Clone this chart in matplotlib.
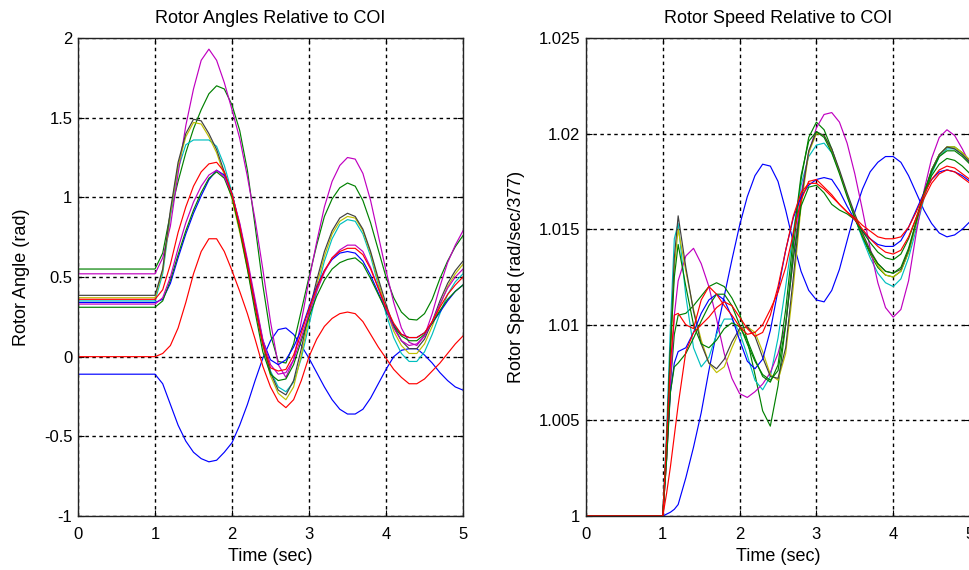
import numpy as np
import matplotlib
matplotlib.use("Agg")
import matplotlib.pyplot as plt

# sample times (s)
t_ang = [0.0] + [round(1.0 + 0.1 * i, 1) for i in range(41)]
t_spd = [0.0, 1.0, 1.05, 1.1, 1.15, 1.2] + [round(1.3 + 0.1 * i, 1) for i in range(38)]

# rotor angles (rad)
ang_blue0 = [-0.11, -0.11, -0.17, -0.30, -0.43, -0.53, -0.60, -0.64, -0.66, -0.65, -0.60, -0.54,
             -0.43, -0.30, -0.15, -0.01, 0.10, 0.17, 0.18, 0.14, 0.07, -0.01, -0.10, -0.19, -0.27,
             -0.33, -0.36, -0.36, -0.33, -0.26, -0.17, -0.08, 0.00, 0.04, 0.05, 0.05, 0.01, -0.04,
             -0.10, -0.15, -0.19, -0.21]
ang_green = [0.55, 0.55, 0.65, 0.90, 1.10, 1.28, 1.43, 1.55, 1.65, 1.70, 1.68, 1.58, 1.42, 1.17,
             0.82, 0.45, 0.14, -0.03, -0.04, 0.08, 0.29, 0.50, 0.70, 0.88, 0.99, 1.06, 1.09, 1.07,
             0.98, 0.84, 0.67, 0.50, 0.37, 0.28, 0.235, 0.23, 0.27, 0.36, 0.49, 0.60, 0.69, 0.76]
ang_red = [0.36, 0.36, 0.42, 0.58, 0.78, 0.94, 1.07, 1.16, 1.21, 1.22, 1.16, 1.02, 0.82, 0.58,
           0.32, 0.08, -0.07, -0.09, -0.08, 0.01, 0.15, 0.30, 0.43, 0.54, 0.62, 0.66, 0.68, 0.68,
           0.64, 0.55, 0.43, 0.31, 0.21, 0.14, 0.12, 0.12, 0.15, 0.22, 0.31, 0.39, 0.45, 0.50]
ang_cyan = [0.35, 0.35, 0.52, 0.88, 1.18, 1.33, 1.36, 1.36, 1.36, 1.32, 1.20, 1.03, 0.82, 0.59,
            0.34, 0.10, -0.09, -0.19, -0.22, -0.16, -0.01, 0.20, 0.41, 0.60, 0.74, 0.83, 0.86,
            0.85, 0.77, 0.63, 0.45, 0.27, 0.12, 0.02, -0.03, -0.03, 0.03, 0.14, 0.27, 0.39, 0.47,
            0.52]
ang_magenta = [0.52, 0.52, 0.62, 0.82, 1.15, 1.45, 1.68, 1.86, 1.93, 1.86, 1.72, 1.55, 1.37, 1.13,
               0.86, 0.55, 0.22, -0.05, -0.13, -0.02, 0.22, 0.48, 0.72, 0.94, 1.10, 1.20, 1.25,
               1.24, 1.15, 0.98, 0.76, 0.54, 0.34, 0.18, 0.09, 0.07, 0.13, 0.27, 0.44, 0.59, 0.70,
               0.79]
ang_yellow = [0.37, 0.37, 0.54, 0.90, 1.20, 1.38, 1.47, 1.46, 1.38, 1.28, 1.14, 0.99, 0.78, 0.55,
              0.31, 0.07, -0.12, -0.23, -0.27, -0.19, 0.01, 0.24, 0.45, 0.63, 0.77, 0.85, 0.88,
              0.87, 0.79, 0.65, 0.47, 0.30, 0.16, 0.07, 0.02, 0.02, 0.08, 0.19, 0.32, 0.44, 0.52,
              0.58]
ang_black = [0.385, 0.385, 0.55, 0.92, 1.22, 1.40, 1.49, 1.48, 1.40, 1.30, 1.16, 1.02, 0.80, 0.57,
             0.32, 0.08, -0.10, -0.21, -0.24, -0.15, 0.05, 0.28, 0.48, 0.66, 0.79, 0.87, 0.90,
             0.88, 0.80, 0.66, 0.49, 0.33, 0.19, 0.10, 0.05, 0.05, 0.11, 0.22, 0.35, 0.46, 0.54,
             0.60]
ang_blue = [0.34, 0.34, 0.36, 0.46, 0.62, 0.77, 0.90, 1.01, 1.11, 1.17, 1.14, 1.02, 0.83, 0.59,
            0.33, 0.10, -0.02, -0.05, -0.02, 0.06, 0.17, 0.31, 0.44, 0.54, 0.61, 0.65, 0.66, 0.65,
            0.60, 0.51, 0.40, 0.29, 0.20, 0.14, 0.12, 0.12, 0.15, 0.21, 0.28, 0.35, 0.41, 0.45]
ang_green2 = [0.31, 0.31, 0.35, 0.48, 0.64, 0.79, 0.92, 1.03, 1.12, 1.16, 1.12, 1.00, 0.80, 0.55,
              0.28, 0.03, -0.11, -0.15, -0.14, -0.05, 0.10, 0.25, 0.38, 0.48, 0.55, 0.59, 0.61,
              0.62, 0.58, 0.49, 0.39, 0.29, 0.19, 0.13, 0.10, 0.10, 0.14, 0.21, 0.29, 0.36, 0.41,
              0.45]
ang_magenta2 = [0.33, 0.33, 0.37, 0.50, 0.68, 0.84, 0.97, 1.07, 1.14, 1.17, 1.13, 1.02, 0.84, 0.61,
                0.36, 0.11, -0.05, -0.11, -0.10, -0.02, 0.12, 0.27, 0.41, 0.53, 0.62, 0.67, 0.70,
                0.70, 0.66, 0.56, 0.43, 0.30, 0.18, 0.10, 0.07, 0.08, 0.13, 0.22, 0.33, 0.43, 0.50,
                0.55]
ang_red0 = [0.0, 0.0, 0.02, 0.07, 0.18, 0.34, 0.52, 0.66, 0.74, 0.74, 0.66, 0.54, 0.41, 0.27,
            0.11, -0.06, -0.19, -0.28, -0.32, -0.27, -0.15, 0.00, 0.11, 0.19, 0.24, 0.27, 0.28,
            0.27, 0.22, 0.14, 0.06, -0.01, -0.08, -0.13, -0.17, -0.17, -0.14, -0.09, -0.04, 0.02,
            0.08, 0.13]

# rotor speeds, as (speed - 1) * 1000
spd_blue0 = [0, 0, 0.1, 0.2, 0.35, 0.6, 2.0, 3.6, 5.4, 7.6, 9.6, 11.5, 13.4, 15.2, 16.7, 17.8,
             18.4, 18.3, 17.5, 16.0, 14.3, 12.8, 11.8, 11.3, 11.2, 11.8, 12.9, 14.4, 15.9, 17.1,
             18.0, 18.5, 18.8, 18.8, 18.5, 17.8, 16.9, 16.0, 15.3, 14.8, 14.6, 14.7, 15.0, 15.4]
spd_green_deep = [0, 0, 3.0, 7.0, 9.5, 10.5, 10.6, 11.0, 11.5, 12.0, 12.2, 12.0, 11.4, 10.6, 9.2,
                  7.4, 5.5, 4.7, 6.8, 10.0, 14.0, 17.6, 19.8, 20.6, 20.2, 19.2, 18.0, 16.8, 15.6,
                  14.6, 13.7, 13.0, 12.6, 12.5, 12.8, 13.8, 15.3, 16.8, 18.1, 18.9, 19.3, 19.3,
                  19.0, 18.6]
spd_red_b = [0, 0, 1.2, 2.6, 4.2, 5.8, 8.6, 9.6, 10.0, 10.4, 10.9, 11.2, 11.0, 10.4, 9.8, 9.4,
             9.6, 10.5, 12.0, 13.9, 15.7, 16.9, 17.4, 17.4, 17.1, 16.7, 16.3, 15.9, 15.5, 15.0,
             14.5, 14.1, 13.8, 13.7, 13.9, 14.6, 15.6, 16.6, 17.4, 17.9, 18.1, 18.0, 17.7, 17.4]
spd_cyan = [0, 0, 4.5, 10.0, 14.5, 15.3, 11.5, 8.8, 7.8, 8.3, 9.5, 10.3, 10.3, 9.6, 8.4, 7.1,
            6.6, 7.3, 9.3, 12.0, 14.9, 17.3, 18.8, 19.4, 19.5, 19.0, 18.0, 16.8, 15.6, 14.5, 13.5,
            12.7, 12.2, 12.0, 12.4, 13.5, 15.0, 16.6, 17.9, 18.8, 19.2, 19.2, 18.9, 18.5]
spd_magenta = [0, 0, 3.0, 7.0, 10.5, 12.3, 13.6, 14.0, 13.2, 12.0, 10.3, 8.5, 7.2, 6.4, 6.2,
               6.5, 6.9, 7.5, 8.5, 10.0, 13.5, 16.8, 19.0, 20.3, 21.0, 21.1, 20.6, 19.5, 17.9,
               16.0, 14.0, 12.2, 10.9, 10.4, 10.8, 12.3, 14.8, 17.0, 18.7, 19.8, 20.2, 19.9, 19.2,
               18.4]
spd_yellow = [0, 0, 3.5, 8.5, 13.0, 15.0, 12.8, 10.8, 9.2, 8.0, 7.5, 7.8, 8.8, 9.7, 9.9, 9.6,
              8.6, 7.4, 7.1, 8.5, 12.0, 16.2, 19.0, 20.0, 19.9, 19.1, 18.0, 16.8, 15.7, 14.7, 13.8,
              13.1, 12.6, 12.5, 12.8, 13.8, 15.3, 16.8, 18.1, 18.9, 19.3, 19.3, 19.0, 18.6]
spd_black = [0, 0, 4.0, 9.0, 13.5, 15.7, 13.0, 10.7, 9.0, 8.0, 7.7, 8.2, 9.1, 9.8, 9.9, 9.4, 8.3,
             7.3, 7.2, 8.8, 12.5, 16.5, 19.1, 20.1, 19.9, 19.2, 18.1, 16.9, 15.8, 14.8, 13.9,
             13.2, 12.8, 12.7, 12.9, 13.9, 15.4, 16.9, 18.1, 18.9, 19.3, 19.2, 18.9, 18.5]
spd_blue2 = [0, 0, 3.5, 6.5, 8.0, 8.6, 8.8, 9.6, 10.6, 11.3, 11.6, 11.3, 10.4, 9.2, 8.1, 7.7,
             8.2, 9.7, 11.8, 13.9, 15.6, 16.7, 17.3, 17.6, 17.7, 17.6, 17.0, 16.2, 15.5, 14.9,
             14.5, 14.2, 14.1, 14.1, 14.4, 15.1, 16.0, 16.9, 17.6, 18.0, 18.1, 18.0, 17.8, 17.5]
spd_green2 = [0, 0, 3.0, 6.5, 7.8, 8.0, 8.5, 9.3, 10.2, 11.0, 11.6, 11.6, 11.0, 10.0, 9.0, 8.1,
              7.4, 7.1, 7.6, 10.0, 13.5, 16.2, 17.2, 17.3, 16.9, 16.3, 16.0, 15.8, 15.5, 14.9,
              14.3, 13.8, 13.5, 13.4, 13.7, 14.5, 15.6, 16.8, 17.8, 18.4, 18.7, 18.6, 18.3, 17.9]
spd_green3 = [0, 0, 3.8, 8.8, 12.5, 14.2, 12.0, 10.0, 9.0, 8.8, 9.2, 9.8, 10.1, 9.9, 9.2, 8.2,
              7.3, 7.0, 7.9, 10.8, 14.6, 17.8, 19.6, 20.1, 19.8, 19.0, 17.9, 16.7, 15.6, 14.6,
              13.8, 13.2, 12.8, 12.7, 13.0, 14.0, 15.4, 16.9, 18.0, 18.8, 19.1, 19.1, 18.8, 18.4]
spd_red_a = [0, 0, 4.0, 8.0, 10.5, 10.6, 10.0, 9.8, 11.3, 12.0, 11.6, 11.0, 10.5, 9.9, 9.5, 9.6,
             10.0, 10.8, 11.7, 13.0, 14.8, 16.5, 17.5, 17.6, 17.2, 16.8, 16.3, 15.9, 15.6, 15.2,
             14.9, 14.6, 14.5, 14.5, 14.6, 15.1, 15.9, 16.8, 17.6, 18.1, 18.3, 18.2, 17.9, 17.6]

# matlab-ish colours
B, G, R, C = "#0000ff", "#008000", "#ff0000", "#00bfbf"
M, Y, K = "#c000c0", "#bfbf00", "#404040"

angles = [(ang_blue0, B), (ang_green, G), (ang_cyan, C), (ang_magenta, M), (ang_yellow, Y),
          (ang_black, K), (ang_blue, B), (ang_green2, G), (ang_magenta2, M), (ang_red, R),
          (ang_red0, R)]
speeds = [(spd_blue0, B), (spd_green_deep, G), (spd_cyan, C), (spd_magenta, M), (spd_yellow, Y),
          (spd_black, K), (spd_blue2, B), (spd_green2, G), (spd_green3, G), (spd_red_b, R),
          (spd_red_a, R)]

plt.rcParams["font.family"] = ["Liberation Sans", "DejaVu Sans"]
plt.rcParams["font.size"] = 13

fig = plt.figure(figsize=(9.69, 5.70), dpi=100)
ax1 = fig.add_axes([78 / 969, 54 / 570, 385 / 969, 478 / 570])
ax2 = fig.add_axes([586 / 969, 54 / 570, 384 / 969, 478 / 570])


def style(ax):
    ax.grid(True, color="k", linestyle=(0, (2.5, 2.5)), linewidth=1.0)
    ax.tick_params(direction="in", length=4, top=True, right=True, pad=4, labelsize=12)
    ax.tick_params(axis="x", pad=8)
    for s in ax.spines.values():
        s.set_linewidth(1.0)
        s.set_color("#222222")
    ax.set_xlim(0, 5)
    ax.set_xticks([0, 1, 2, 3, 4, 5])
    ax.set_xticklabels(["0", "1", "2", "3", "4", "5"])
    ax.set_xlabel("Time (sec)", labelpad=4)


for y, c in angles:
    ax1.plot(t_ang, y, color=c, linewidth=0.85)
style(ax1)
ax1.set_ylim(-1, 2)
ax1.set_yticks([-1, -0.5, 0, 0.5, 1, 1.5, 2])
ax1.set_yticklabels(["-1", "-0.5", "0", "0.5", "1", "1.5", "2"])
ax1.set_ylabel("Rotor Angle (rad)", labelpad=10)
ax1.set_title("Rotor Angles Relative to COI", fontsize=13, pad=11)

for y, c in speeds:
    ax2.plot(t_spd, 1 + np.array(y) / 1000.0, color=c, linewidth=0.85)
style(ax2)
ax2.set_ylim(1.0, 1.025)
ax2.set_yticks([1.0, 1.005, 1.01, 1.015, 1.02, 1.025])
ax2.set_yticklabels(["1", "1.005", "1.01", "1.015", "1.02", "1.025"])
ax2.set_ylabel("Rotor Speed (rad/sec/377)", labelpad=10)
ax2.set_title("Rotor Speed Relative to COI", fontsize=13, pad=11)

fig.savefig("out.png", dpi=100, facecolor="white")
